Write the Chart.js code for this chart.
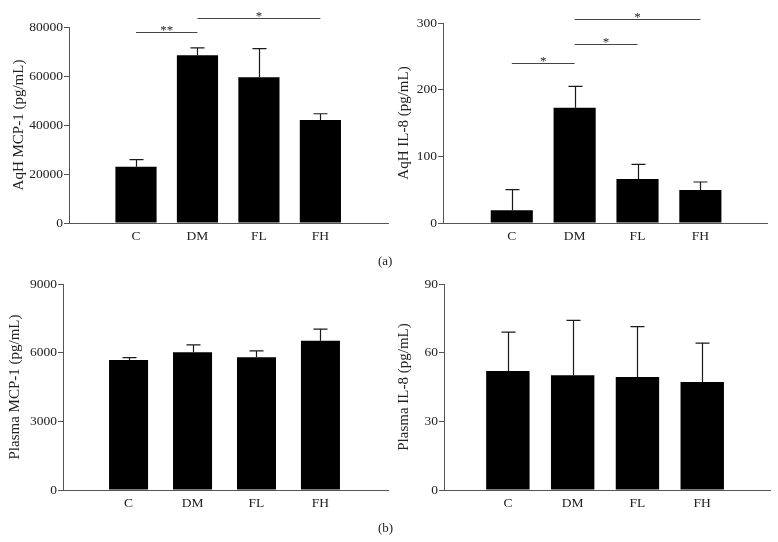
<!DOCTYPE html>
<html><head><meta charset="utf-8">
<script src="https://cdn.jsdelivr.net/npm/chart.js@4/dist/chart.umd.min.js"></script>
<style>
html,body{margin:0;padding:0;background:#fff}
body{width:778px;height:542px;position:relative;overflow:hidden;font-family:"Liberation Serif","Times New Roman",serif}
.p{position:absolute}
.lab{position:absolute;font-size:13px;color:#222;line-height:14px}
</style></head><body>
<div class="p" style="left:0;top:0;width:389px;height:260px"><canvas id="c1"></canvas></div>
<div class="p" style="left:389px;top:0;width:389px;height:260px"><canvas id="c2"></canvas></div>
<div class="p" style="left:0;top:260px;width:389px;height:282px"><canvas id="c3"></canvas></div>
<div class="p" style="left:389px;top:260px;width:389px;height:282px"><canvas id="c4"></canvas></div>
<div class="lab" style="left:378px;top:254px">(a)</div>
<div class="lab" style="left:378px;top:521px">(b)</div>
<script>
// ---- data ----
const categories = ['C', 'DM', 'FL', 'FH'];
const aqhMcp1Mean = [23000, 68500, 59500, 42000];
const aqhMcp1Err  = [2900, 3000, 11700, 2600];
const aqhIl8Mean  = [19, 173, 66, 49.5];
const aqhIl8Err   = [31, 32, 22, 12];
const plasmaMcp1Mean = [5680, 6020, 5800, 6520];
const plasmaMcp1Err  = [100, 320, 275, 510];
const plasmaIl8Mean  = [52, 50.1, 49.4, 47.2];
const plasmaIl8Err   = [17, 24, 22, 17];
// significance brackets: [fromIndex, toIndex, label]
const aqhMcp1Sig = [[0, 1, '**'], [1, 3, '*']];
const aqhIl8Sig  = [[0, 1, '*'], [1, 2, '*'], [1, 3, '*']];

const FONT = '"Liberation Serif","Times New Roman",serif';
const TXT = '#222';
const AX = '#555';

const errPlugin = {
  id: 'errbars',
  afterDatasetsDraw(chart, args, opts) {
    const ctx = chart.ctx, ys = chart.scales.y;
    const meta = chart.getDatasetMeta(0);
    const errs = opts.errors || [];
    ctx.save();
    ctx.strokeStyle = '#1a1a1a';
    ctx.lineWidth = 1.2;
    meta.data.forEach((bar, i) => {
      const v = chart.data.datasets[0].data[i].y;
      const top = ys.getPixelForValue(v + errs[i]);
      const x = Math.round(bar.x) + 0.5;
      ctx.beginPath();
      ctx.moveTo(x, bar.y);
      ctx.lineTo(x, top);
      ctx.moveTo(x - 7, top);
      ctx.lineTo(x + 7, top);
      ctx.stroke();
    });
    ctx.restore();
  }
};

const sigPlugin = {
  id: 'sig',
  afterDraw(chart, args, opts) {
    const items = opts.items || [];
    const levels = opts.levels || [];
    const ctx = chart.ctx, xs = chart.scales.x, ys = chart.scales.y;
    ctx.save();
    items.forEach((it, k) => {
      const x1 = xs.getPixelForValue(it[0]);
      const x2 = xs.getPixelForValue(it[1]);
      const y = Math.round(ys.getPixelForValue(levels[k])) + 0.5;
      ctx.strokeStyle = '#444';
      ctx.lineWidth = 1;
      ctx.beginPath();
      ctx.moveTo(x1, y); ctx.lineTo(x2, y); ctx.stroke();
      ctx.fillStyle = TXT;
      ctx.font = '13px ' + FONT;
      ctx.textAlign = 'center';
      ctx.textBaseline = 'alphabetic';
      ctx.fillText(it[2], (x1 + x2) / 2, y + 1);
    });
    ctx.restore();
  }
};

function makeChart(id, cfg) {
  const data = cfg.mean.map((v, i) => ({ x: i, y: v }));
  return new Chart(document.getElementById(id), {
    type: 'bar',
    data: { datasets: [{ data, backgroundColor: '#000', borderWidth: 0,
      barPercentage: cfg.barPct, categoryPercentage: 1 }] },
    options: {
      responsive: true, maintainAspectRatio: false, animation: false,
      layout: { padding: { top: cfg.top, right: cfg.right, left: 0, bottom: 0 } },
      plugins: { legend: { display: false }, tooltip: { enabled: false },
        errbars: { errors: cfg.err },
        sig: { items: cfg.sig || [], levels: cfg.levels || [] } },
      scales: {
        x: {
          type: 'linear', min: cfg.xmin, max: cfg.xmax, offset: false,
          afterBuildTicks: s => { s.ticks = categories.map((_, i) => ({ value: i })); },
          afterFit: s => { s.height = cfg.xh; },
          ticks: { callback: v => categories[v], color: TXT, font: { family: FONT, size: 13.5 }, padding: 5, autoSkip: false, maxRotation: 0 },
          grid: { display: false, drawTicks: false, offset: false },
          border: { display: true, color: AX, width: 1 }
        },
        y: {
          min: 0, max: cfg.ymax,
          afterBuildTicks: s => { s.ticks = cfg.yticks.map(v => ({ value: v })); },
          afterFit: s => { s.width = cfg.yw; },
          ticks: { callback: v => String(v), color: TXT, font: { family: FONT, size: 13.5 }, padding: 1 },
          grid: { drawOnChartArea: false, drawTicks: true, tickLength: 5, color: AX },
          border: { display: true, color: AX, width: 1 },
          title: { display: true, text: cfg.title, color: TXT, font: { family: FONT, size: 15 }, padding: { top: cfg.tpad, bottom: 0 } }
        }
      }
    },
    plugins: [errPlugin, sigPlugin]
  });
}

makeChart('c1', { mean: aqhMcp1Mean, err: aqhMcp1Err, sig: aqhMcp1Sig, levels: [78000, 83700],
  ymax: 80000, yticks: [0, 20000, 40000, 60000, 80000], title: 'AqH MCP-1 (pg/mL)',
  top: 27, right: 1, yw: 69, xh: 37, xmin: -1.09, xmax: 4.1, barPct: 0.67, tpad: 10 });
makeChart('c2', { mean: aqhIl8Mean, err: aqhIl8Err, sig: aqhIl8Sig, levels: [240, 268.5, 306.5],
  ymax: 300, yticks: [0, 100, 200, 300], title: 'AqH IL-8 (pg/mL)',
  top: 23, right: 11, yw: 54, xh: 37, xmin: -1.094, xmax: 4.06, barPct: 0.67, tpad: 6 });
makeChart('c3', { mean: plasmaMcp1Mean, err: plasmaMcp1Err,
  ymax: 9000, yticks: [0, 3000, 6000, 9000], title: 'Plasma MCP-1 (pg/mL)',
  top: 24, right: 1, yw: 63, xh: 52, xmin: -1.025, xmax: 4.056, barPct: 0.61, tpad: 6 });
makeChart('c4', { mean: plasmaIl8Mean, err: plasmaIl8Err,
  ymax: 90, yticks: [0, 30, 60, 90], title: 'Plasma IL-8 (pg/mL)',
  top: 24, right: 8, yw: 55, xh: 52, xmin: -0.986, xmax: 4.046, barPct: 0.67, tpad: 6 });
</script>
</body></html>
